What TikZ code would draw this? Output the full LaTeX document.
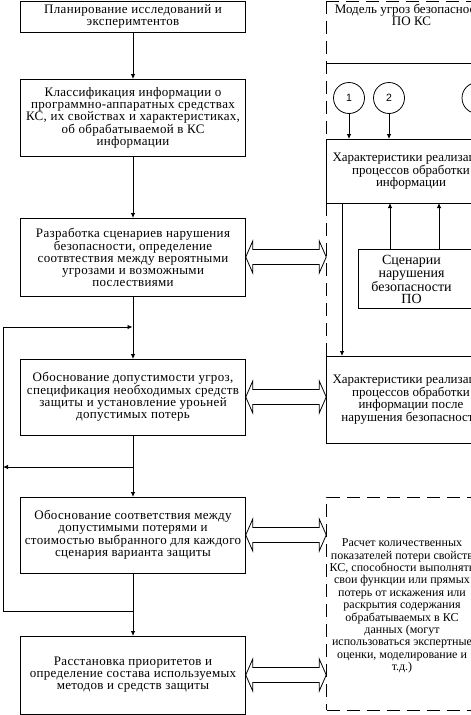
\documentclass[tikz,border=0pt]{standalone}
\usepackage{fontspec}
\setmainfont{Liberation Serif}
\newfontfamily\digitfont{Liberation Sans}
\newfontfamily\widefont[LetterSpace=2.5]{Liberation Serif}
\usetikzlibrary{arrows.meta,calc}
\newcommand\dblarr[1]{\draw[line join=miter] (#1.east) -- ++(7,-16) -- ++(0,8.5) -- ++(66.5,0) -- ++(0,-8.5) -- ++(7,16) -- ++(-7,16) -- ++(0,-8.5) -- ++(-66.5,0) -- ++(0,8.5) -- cycle;}
\begin{document}
\begin{tikzpicture}[x=1pt,y=-1pt,
  line width=0.8pt,
  every node/.style={inner sep=0pt, outer sep=0pt},
  txt/.style={align=center, font=\fontsize{13}{12}\selectfont},
  box/.style={draw, align=center, font=\widefont\fontsize{13}{12}\selectfont, minimum width=225.5},
  rbox/.style={draw, txt, minimum width=170},
  arr/.style={-{Latex[length=5pt,width=4.5pt]}},
  dsh/.style={dash pattern=on 13pt off 7pt},
  circ/.style={draw, circle, minimum size=31, font=\digitfont\fontsize{10.5}{12}\selectfont}
]
\useasboundingbox (0,0) rectangle (471,715);
\clip (0,0) rectangle (471,715);

% left column
\node[box, minimum height=31] (b1) at (133,16.5) {Планирование исследований и\\эксперимтентов};
\node[box, minimum height=77] (b2) at (133,117.5) {Классификация информации о\\программно-аппаратных средствах\\КС, их свойствах и характеристиках,\\об обрабатываемой в КС\\информации};
\node[box, minimum height=78] (b3) at (133,257) {Разработка сценариев нарушения\\безопасности, определение\\соотвтествия между вероятными\\угрозами и возможными\\послествиями};
\node[box, minimum height=76] (b4) at (133,397) {Обоснование допустимости угроз,\\спецификация необходимых средств\\защиты и установление уроьней\\допустимых потерь};
\node[box, minimum height=76] (b5) at (133,535) {Обоснование соответствия между\\допустимыми потерями и\\стоимостью выбранного для каждого\\сценария варианта защиты};
\node[box, minimum height=78] (b6) at (133,675) {Расстановка приоритетов и\\определение состава используемых\\методов и средств защиты};

\coordinate (j1) at (133,327);
\coordinate (j2) at (133,467);
\coordinate (j3) at (133,611);
\coordinate (L1) at (3,327);
\coordinate (L2) at (3,467);
\coordinate (L3) at (3,611);

\draw[arr] (b1.south) -- (b2.north);
\draw[arr] (b2.south) -- (b3.north);
\draw[arr] (b3.south) -- (b4.north);
\draw[arr] (b4.south) -- (b5.north);
\draw[arr] (b5.south) -- (b6.north);
\draw[arr] (j2) -- (L2);
\draw (j3) -- (L3) -- (L1);
\draw[arr, shorten >=0.5pt] (L1) -- (j1);

% right column, top
\draw[dsh] (326,1) -- (480,1);
\draw[dsh] (326,1) -- (326,139);
\draw[dsh] (326,203) -- (326,356);
\draw (326,63) -- (480,63);
\node[txt] (title) at (411.5,15) {Модель угроз безопасности\\ПО КС};

\node[rbox, minimum height=64] (chars) at (411,171) {Характеристики реализации\\процессов обработки\\информации};

\node[circ] (c1) at (349,98) {1};
\node[circ] (c2) at (389,98) {2};
\node[circ] (c3) at (477.5,98) {};
\draw[arr] (c1.south) -- (c1.south |- chars.north);
\draw[arr] (c2.south) -- (c2.south |- chars.north);

\node[draw, minimum width=130, minimum height=59] (scen) at (423,278.5) {};
\node[align=center, font=\fontsize{14}{12.8}\selectfont] (scentxt) at (411.5,279.5) {Сценарии\\нарушения\\безопасности\\ПО};
\coordinate (s1) at (390,0);
\coordinate (s2) at (439,0);
\draw[arr] (s1 |- scen.north) -- (s1 |- chars.south);
\draw[arr] (s2 |- scen.north) -- (s2 |- chars.south);

\node[rbox, minimum height=87] (after) at (411,399.5) {Характеристики реализации\\процессов обработки\\информации после\\нарушения безопасности};
\coordinate (d1) at (342,0);
\draw[arr] (d1 |- chars.south) -- (d1 |- after.north);

% right column, bottom
\node[draw, dsh, minimum width=170, minimum height=213] (calc) at (411.5,603.5) {};
\node[align=center, font=\fontsize{12}{12.4}\selectfont] (calctxt) at (402,606) {Расчет количественных\\показателей потери свойств\\КС, способности выполнять\\свои функции или прямых\\потерь от искажения или\\раскрытия содержания\\обрабатываемых в КС\\данных (могут\\использоваться экспертные\\оценки, моделирование и\\т.д.)};

% double arrows
\dblarr{b3}
\dblarr{b4}
\dblarr{b5}
\dblarr{b6}
\end{tikzpicture}
\end{document}
